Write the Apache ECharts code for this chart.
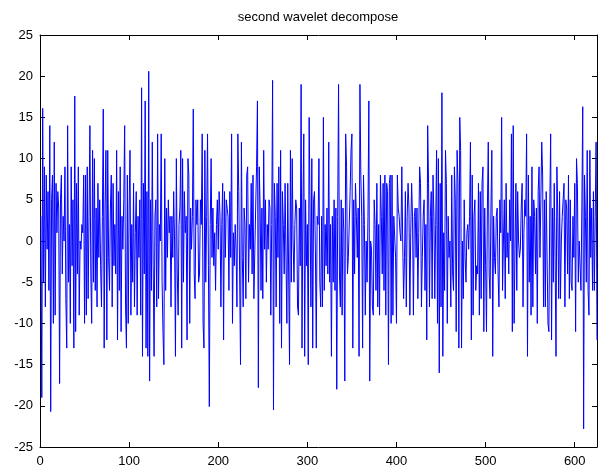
<!DOCTYPE html>
<html>
<head>
<meta charset="utf-8">
<script src="https://cdn.jsdelivr.net/npm/echarts@6/dist/echarts.min.js"></script>
<style>
  html, body { margin: 0; padding: 0; background: #fff; }
  #chart { width: 605px; height: 471px; }
</style>
</head>
<body>
<div id="chart"></div>
<script>
// 信号 (second level detail), samples 1..625
const signal = [
  3, -19, 16.1, -5, 9, -8, 8, -1, 6, -6,
  14, -20.7, 5, 8, -10, 12, -9, 7, 1, 6,
  4, -17.3, 5, 8, -4, 3, 0, 9, -7, -13,
  14, -5, 2, -10, 9, -3, 5, -13, 17.6, -11,
  7, -4, 9, -9, 0, -1, 2, 1, 8, -10,
  8, -9, 9, -7, 3, 14, -4, -10, 11, -5,
  10, -6, 4, -8, 7, -2, 5, -3,
  -8, 3, 16,
  -13, 4, 11, -12, 11, -2, -6, 4, 8, -8,
  7, -3, 2, -4, 11, -12, 6, -6, 9, -11,
  3, -1, 5, 14, -8, -13, 8, -10, 4, 11,
  -9, 2, -5, 7, -8, 1, 6, -9, 3, -2,
  5, -9, 18.6, -14, 7, -4, 17, -13, 6, -14,
  20.6, -17, 5, -6, 12, -3, -14, 3,
  5, -8, 13, -7, 2, 0, 13, -5, -11, -15, 10, -6,
  4, -2, 5, 1, 3, -8, 3, -2, 6, 0,
  -14, 10, -4, -9, 2, 4, 11, -13, 10, -5,
  6, 1, 3, -12, 10, 8, -10, 4, -1, 3,
  16, -4, -7, 5, 2, 5, -5, -4, 5, 2,
  13, -10, -13, 11, -5, 3, 13, -3, -20.1, 2,
  10, -2, 4, -3, 1, -6, 2, 5, -1, 6, 3,
  -8, 2, 7, -12, 6, -2, 5, 4, 3, -6,
  6, -2, 13, -10, 1, -3, 2, -1, -8, 13,
  6, -4, -15, 12, -2, -8, 4, 2, -7, 8,
  9, -5, 2, -1, 7, -4, 8, -7, -7, 4,
  9, 17, -17.8, 9, 4, -6, 4, -7, 11, -1, 5,
  -5, 2, -1, 5, 4, -9, 2, 19.5, -20.5, 7,
  3, -8, 7, -2, 9, -10, 11, -13, 6, 2,
  -4, 7, -2, -10, 7, 7, -15, 11, -5, 10,
  0, -5, 2, 5, 4, -8, -9, 4, -3, 19,
  -13, 4, 13, -14, 5, -3, 2, -15, 15, 4,
  -8, 10, -13, 5, 6, -1, -13, 3, 2, 10, -5,
  -8, 3, -8, 15, -6, 2, -3, 4, -4, 12, -5,
  2, -14, 3, -5, 5, -6, 4, -18, 3, 19,
  -4, -8, 5, -9, 4, 1, -17, 13, 9, -4,
  -2, -2, 6, 11, 13, -13, 5, -4, 7, 3,
  -2, 4, -14, 19, 8, 3, -13, 8, 2, -9,
  0, -5, 3, 17, -17, 0, -1, -8, -9, 5, 2, -6,
  7, -8, 2, -9, 8, 3, -4, 7, -6, 8,
  -9, 7, 6, -15, 7, 8, -10, 8, -9, 3,
  3, -2, -10, 8, 4, 3, 1, 0, 9, 0,
  -7, -2, 6, -8, 3, 7, 4, -9, 1, 7,
  3, -9, 3, 4, -2, 4, -7, 1, 9, 7,
  -8, -2, 3, 5, -6, 2, -12, 14, 7, -8, 3,
  6, -7, 8, 3, -7, 2, 11, -10, 10, -16,
  7, -8, 18, -14, 1, -6, 11, 7, -10, 3,
  -2, 0, -8, 8, -4, -6, 9, 5, -11, 11,
  7, -13, 15, 11, -13, 0, -7, 5, -2, -5,
  1, 2, -1, 3, 12, -12, 8, -9, 3, 5, -6,
  -3, -4, 7, -9, 6, -7, 7, 9, -11, 4, -3,
  -11, 4, 12, -4, -7, 4, 11, -14, 3, -2,
  -4, 3, 4, -4, -8, 5, 1, 15, -6, 0,
  5, -7, 7, -2, 1, -4, 5, 0, 13, -11,
  14, -10, -1, 7, -6, 6, 0, -2, -1, 4,
  7, -8, 1, 5, 3, 13, -14, 8, -5, 3,
  -9, 9, -8, 5, 3, -4, 4, -10, 6, 9, -2, 5,
  12, 8, -8, 5, -8, 6, 6, -10, -11, 4,
  13, -12, 4, -5, 7, -2, -14, 9, 3, -7,
  6, -7, 0, 3, 3, 7, -8, 5, 4, -4,
  8, -7, 5, -5, -6, 3, -2, 7, -11, 10,
  7, -5, 0, 0, -6, 4, 16.3, -22.8, 8, 3,
  -5, 11, -6, -9, 11, -2, 4, -6, 6, -6, 3, 12, -12
]
const xTicks = [0, 100, 200, 300, 400, 500, 600]
const yTicks = [-25, -20, -15, -10, -5, 0, 5, 10, 15, 20, 25]
const titleText = 'second wavelet decompose'

const xMax = 625
const seriesData = signal.map((v, i) => [i + 1, v])

const font = '"Liberation Sans", Arial, sans-serif'
const axisBase = {
  type: 'value',
  axisLine: { show: true, onZero: false, lineStyle: { color: '#000', width: 1 } },
  axisTick: { show: true, inside: true, length: 5, lineStyle: { color: '#000' } },
  splitLine: { show: false }
}

const myChart = echarts.init(document.getElementById('chart'), null, { renderer: 'canvas' })
const option = {
  animation: false,
  backgroundColor: '#fff',
  title: {
    text: titleText,
    left: 318,
    textAlign: 'center',
    top: 11,
    padding: 0,
    textStyle: { fontFamily: font, fontSize: 13, fontWeight: 'normal', color: '#000' }
  },
  grid: { left: 40, right: 8, top: 35, bottom: 24 },
  xAxis: [
    Object.assign({}, axisBase, {
      position: 'bottom', min: 0, max: xMax, interval: 100,
      axisLabel: {
        margin: 8, fontFamily: font, fontSize: 13, color: '#000', showMaxLabel: false,
        formatter: v => (xTicks.indexOf(v) >= 0 ? String(v) : '')
      }
    }),
    Object.assign({}, axisBase, {
      position: 'top', min: 0, max: xMax, interval: 100,
      axisLabel: { show: false }
    })
  ],
  yAxis: [
    Object.assign({}, axisBase, {
      position: 'left', min: yTicks[0], max: yTicks[yTicks.length - 1], interval: 5,
      axisLabel: { margin: 7, fontFamily: font, fontSize: 13, color: '#000' }
    }),
    Object.assign({}, axisBase, {
      position: 'right', min: yTicks[0], max: yTicks[yTicks.length - 1], interval: 5,
      axisLabel: { show: false }
    })
  ],
  series: [
    {
      type: 'line',
      xAxisIndex: 0,
      yAxisIndex: 0,
      data: seriesData,
      showSymbol: false,
      symbol: 'none',
      lineStyle: { color: '#0000ff', width: 1 },
      itemStyle: { color: '#0000ff' }
    }
  ]
}
myChart.setOption(option)
</script>
</body>
</html>
